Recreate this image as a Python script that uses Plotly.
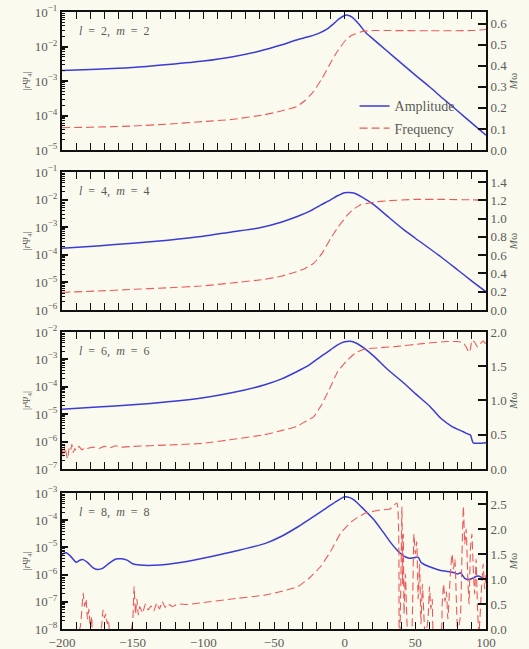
import plotly.graph_objects as go

# ---------------- data: (l, m) = (2, 2) ----------------
t22_amp = [-200, -175, -150, -125, -100, -80, -60, -45, -34, -25, -18, -12, -8, -4, 0, 2,
           5, 10, 15, 20, 30, 40, 50, 60, 70, 80, 90, 100]
amp22 = [2.0e-3, 2.2e-3, 2.45e-3, 3.0e-3, 3.8e-3, 5.0e-3, 7.4e-3, 1.1e-2, 1.55e-2, 1.95e-2,
         2.45e-2, 3.3e-2, 4.5e-2, 6.3e-2, 7.9e-2, 8.1e-2, 7.2e-2, 4.5e-2, 2.5e-2, 1.66e-2,
         7.4e-3, 3.3e-3, 1.48e-3, 6.8e-4, 3.0e-4, 1.35e-4, 6.0e-5, 2.7e-5]
t22_frq = [-200, -180, -150, -125, -100, -80, -57, -45, -34, -28, -22, -16, -10, -5, 1, 5,
           13, 20, 30, 60, 90, 100]
frq22 = [0.106, 0.108, 0.114, 0.123, 0.135, 0.145, 0.167, 0.185, 0.206, 0.235, 0.278, 0.34,
         0.413, 0.47, 0.524, 0.545, 0.563, 0.567, 0.567, 0.566, 0.567, 0.572]

# ---------------- data: (l, m) = (4, 4) ----------------
t44_amp = [-200, -175, -150, -125, -100, -80, -60, -45, -34, -25, -17, -10, -5, 0, 3, 7,
           12, 21, 30, 42, 50, 68, 80, 90, 100]
amp44 = [1.74e-4, 2.09e-4, 2.63e-4, 3.39e-4, 4.68e-4, 6.76e-4, 9.55e-4, 1.51e-3, 2.40e-3,
         3.72e-3, 6.31e-3, 9.77e-3, 1.38e-2, 1.78e-2, 1.82e-2, 1.70e-2, 1.26e-2, 6.31e-3,
         2.57e-3, 7.94e-4, 3.98e-4, 8.51e-5, 2.82e-5, 1.12e-5, 4.57e-6]
t44_frq = [-200, -175, -150, -125, -102, -80, -57, -45, -34, -28, -22, -16, -10, -5, 2, 6,
           11, 21, 30, 49, 70, 90, 100]
frq44 = [0.193, 0.208, 0.226, 0.243, 0.262, 0.295, 0.335, 0.37, 0.419, 0.455, 0.51, 0.62,
         0.78, 0.90, 1.04, 1.10, 1.15, 1.18, 1.195, 1.21, 1.21, 1.205, 1.20]

# ---------------- data: (l, m) = (6, 6) ----------------
t66_amp = [-200, -175, -150, -125, -100, -80, -57, -45, -34, -25, -17, -10, -5, 0, 4, 8,
           14, 21, 30, 42, 50, 60, 68, 76, 84, 87, 89, 91, 95, 100]
amp66 = [1.51e-5, 1.82e-5, 2.19e-5, 2.82e-5, 3.98e-5, 6.03e-5, 1.17e-4, 1.91e-4, 3.55e-4,
         6.31e-4, 1.26e-3, 2.24e-3, 3.39e-3, 4.37e-3, 4.57e-3, 3.98e-3, 2.51e-3, 1.26e-3,
         4.47e-4, 1.35e-4, 5.62e-5, 2.0e-5, 7.08e-6, 3.55e-6, 2.29e-6, 1.91e-6, 1.74e-6,
         8.91e-7, 8.71e-7, 9.12e-7]
t66_frq = [-200, -199, -198, -197, -196, -195, -194, -193, -192, -191, -190, -188, -186,
           -184, -182, -178, -174, -170, -166, -162, -158, -150, -125, -100, -80, -57, -45,
           -34, -28, -22, -16, -10, -5, 2, 8, 14, 25, 37, 55, 72, 80, 84, 86, 88, 89, 90,
           92, 94, 96, 98, 100]
frq66 = [0.30, 0.18, 0.34, 0.22, 0.15, 0.30, 0.26, 0.36, 0.24, 0.30, 0.27, 0.33, 0.28,
         0.31, 0.30, 0.32, 0.30, 0.33, 0.31, 0.34, 0.32, 0.33, 0.35, 0.375, 0.43, 0.50, 0.56,
         0.62, 0.69, 0.76, 0.95, 1.20, 1.42, 1.59, 1.70, 1.75, 1.77, 1.79, 1.83, 1.86, 1.86,
         1.84, 1.78, 1.70, 1.75, 1.88, 1.85, 1.78, 1.83, 1.87, 1.82]

# ---------------- data: (l, m) = (8, 8) ----------------
t88_amp = [-200, -197, -194, -190, -187, -185, -182, -178, -175, -171, -167, -162, -158,
           -154, -150, -145, -135, -125, -115, -102, -80, -56, -45, -33, -25, -17, -10, -5,
           0, 4, 7, 12, 21, 27, 33, 38, 42, 45, 47, 50, 52, 54, 56, 62, 68, 73, 77, 80, 82,
           85, 88, 91, 94, 97, 100]
amp88 = [5.62e-6, 6.31e-6, 4.79e-6, 2.82e-6, 3.47e-6, 3.55e-6, 2.82e-6, 1.78e-6, 1.55e-6,
         1.74e-6, 2.51e-6, 3.72e-6, 3.80e-6, 3.39e-6, 2.51e-6, 2.24e-6, 2.19e-6, 2.40e-6,
         2.82e-6, 3.80e-6, 6.76e-6, 1.41e-5, 2.51e-5, 5.75e-5, 1.07e-4, 2.04e-4, 3.55e-4,
         5.25e-4, 7.24e-4, 6.61e-4, 5.37e-4, 3.02e-4, 1.0e-4, 3.80e-5, 1.41e-5, 7.08e-6,
         4.79e-6, 4.07e-6, 3.98e-6, 4.27e-6, 4.37e-6, 2.82e-6, 2.40e-6, 1.78e-6, 1.41e-6,
         1.29e-6, 1.20e-6, 1.05e-6, 1.17e-6, 7.24e-7, 6.61e-7, 7.59e-7, 8.91e-7, 7.94e-7,
         6.31e-7]
t88_frq = [-200, -190, -187, -185, -184, -183, -182, -181, -180, -179, -178, -174, -172,
           -171, -170, -169, -168, -167, -166, -152, -150, -149, -148, -147, -146, -145,
           -143, -141, -139, -137, -135, -133, -131, -129, -127, -125, -122, -118, -112,
           -105, -100, -80, -56, -45, -33, -25, -17, -10, -3, 5, 14, 25, 32, 37,
           38.5, 39, 40, 40.5, 41, 41.5, 42, 43, 44, 45, 47, 48, 49, 50, 51, 52, 53, 54,
           55, 56, 57, 59, 60, 61, 62, 63, 68, 69, 70, 71, 72, 73, 75, 76, 77, 78, 79, 80,
           82, 83, 84, 85, 86, 87, 88, 89, 90, 91, 92, 93, 94, 95, 97, 98, 99, 100]
frq88 = [-0.3, -0.2, 0.05, 0.72, 0.45, 0.60, 0.20, 0.40, 0.05, 0.25, -0.2, -0.2, 0.05,
         0.38, 0.22, 0.30, 0.10, 0.18, -0.1, -0.1, 0.15, 0.85, 0.30, 0.60, 0.28, 0.45,
         0.32, 0.50, 0.38, 0.46, 0.36, 0.52, 0.40, 0.55, 0.43, 0.50, 0.45, 0.50, 0.49,
         0.51, 0.53, 0.60, 0.68, 0.75, 0.85, 1.02, 1.25, 1.55, 1.91, 2.15, 2.31, 2.38,
         2.40, 2.52,
         0.05, -0.2, 1.4, 2.45, 0.9, 1.9, 0.3, 1.1, 0.2, -0.2, -0.2, 0.4, 1.9, 1.5, 1.75,
         0.6, 1.3, 0.1, 0.9, 0.3, -0.2, 0.2, 0.85, 0.4, 0.6, -0.1, -0.1, 0.5, 0.9, 0.55,
         0.75, 0.2, 1.2, 1.5, 1.2, 1.4, 0.6, -0.1, 0.3, 1.5, 2.45, 1.7, 2.0, 1.1, 0.5, 1.6,
         1.9, 1.2, 0.7, 1.4, 0.4, -0.1, 0.9, 1.3, 0.8, 1.1]

SP = "\u2002"
panel_labels = [f"<i>l</i>{SP}={SP}2,{SP}<i>m</i>{SP}={SP}2",
                f"<i>l</i>{SP}={SP}4,{SP}<i>m</i>{SP}={SP}4",
                f"<i>l</i>{SP}={SP}6,{SP}<i>m</i>{SP}={SP}6",
                f"<i>l</i>{SP}={SP}8,{SP}<i>m</i>{SP}={SP}8"]
amp_decades = [(-5, -1), (-6, -1), (-7, -2), (-8, -3)]
freq_ranges = [(0, 0.655), (0, 1.51), (0, 2.0), (0, 2.72)]
freq_dticks = [0.1, 0.2, 0.5, 0.5]
x_ticks = [-200, -150, -100, -50, 0, 50, 100]

series = [(t22_amp, amp22, t22_frq, frq22), (t44_amp, amp44, t44_frq, frq44),
          (t66_amp, amp66, t66_frq, frq66), (t88_amp, amp88, t88_frq, frq88)]

BG = "#fbfaee"
FONT = "Liberation Serif"
TXT = "#5a5a5a"
BLUE = "#3b3bd6"
RED = "#ec5a5a"
TICK_SIZE = 13

# panel y-domains (top to bottom)
domains = [(0.7763, 1.0), (0.5170, 0.7407), (0.2593, 0.4814), (0.0, 0.2204)]

fig = go.Figure()
layout = {}

for i, (ta, amp, tf, frq) in enumerate(series):
    n = i + 1
    xa = "x" if n == 1 else f"x{n}"
    ya = "y" if n == 1 else f"y{n}"
    yr = f"y{n + 4}"
    fig.add_trace(go.Scatter(x=ta, y=amp, xaxis=xa, yaxis=ya, mode="lines",
                             line=dict(color=BLUE, width=1.5, shape="spline", smoothing=0.6),
                             name="Amplitude", legendgroup="amp", showlegend=(n == 1)))
    fig.add_trace(go.Scatter(x=tf, y=frq, xaxis=xa, yaxis=yr, mode="lines",
                             line=dict(color=RED, width=1.1, dash="8px,4px",
                                       shape="spline", smoothing=0.4),
                             name="Frequency", legendgroup="frq", showlegend=(n == 1)))

    lo, hi = amp_decades[i]
    dec = list(range(lo, hi + 1))
    minor_vals = [k * 10.0 ** d for d in range(lo, hi) for k in range(2, 10)]
    xkey = "xaxis" if n == 1 else f"xaxis{n}"
    ykey = "yaxis" if n == 1 else f"yaxis{n}"
    rkey = f"yaxis{n + 4}"

    layout[xkey] = dict(
        domain=[0, 1], anchor=ya, range=[-200, 100], tickvals=x_ticks,
        showticklabels=(n == 4), ticks="inside", ticklen=7, tickwidth=1.3,
        tickcolor="#111", mirror="allticks", showline=True, linewidth=2,
        linecolor="#111", showgrid=False, zeroline=False, automargin=False,
        minor=dict(dtick=10, ticks="inside", ticklen=4, tickwidth=1, tickcolor="#111"),
        tickfont=dict(family=FONT, size=TICK_SIZE, color=TXT),
        **({} if n == 1 else {"matches": "x"}))
    layout[ykey] = dict(
        domain=list(domains[i]), anchor=xa, type="log", range=[lo, hi],
        tickvals=[10.0 ** d for d in dec],
        ticktext=[f"10<sup>{d}</sup>".replace("-", "\u2212") for d in dec],
        ticks="inside", ticklen=6, tickwidth=1.5, tickcolor="#111",
        showline=True, linewidth=2, linecolor="#111", showgrid=False, zeroline=False,
        minor=dict(tickvals=minor_vals, ticks="inside", ticklen=3, tickwidth=1,
                   tickcolor="#111"),
        tickfont=dict(family=FONT, size=TICK_SIZE, color=TXT),
        title=dict(text="|<i>r</i>\u03a8<sub>4</sub>|", standoff=2,
                   font=dict(family=FONT, size=10, color=TXT)))
    layout[rkey] = dict(
        overlaying=ya, anchor=xa, side="right", range=list(freq_ranges[i]),
        dtick=freq_dticks[i], tick0=0, tickformat=".1f",
        ticks="inside", ticklen=8, tickwidth=1.5, tickcolor="#111",
        showline=True, linewidth=2, linecolor="#111", showgrid=False, zeroline=False,
        tickfont=dict(family=FONT, size=TICK_SIZE, color=TXT),
        title=dict(text="<i>M</i>\u03c9", standoff=2,
                   font=dict(family=FONT, size=11, color=TXT)))

annotations = [dict(text=lab, xref=("x" if k == 0 else f"x{k + 1}") + " domain",
                    yref=("y" if k == 0 else f"y{k + 1}") + " domain",
                    x=0.035, y=0.86, xanchor="left", yanchor="middle", showarrow=False,
                    font=dict(family=FONT, size=12, color=TXT))
               for k, lab in enumerate(panel_labels)]

fig.update_layout(
    width=529, height=649,
    margin=dict(l=62, r=43, t=12, b=20, autoexpand=False),
    paper_bgcolor=BG, plot_bgcolor=BG,
    showlegend=True,
    legend=dict(x=0.69, y=0.873, xanchor="left", yanchor="top", traceorder="grouped",
                bgcolor="rgba(0,0,0,0)", font=dict(family=FONT, size=14, color=TXT),
                itemwidth=30, tracegroupgap=1),
    annotations=annotations,
    **layout)

fig.write_html("out.html")
